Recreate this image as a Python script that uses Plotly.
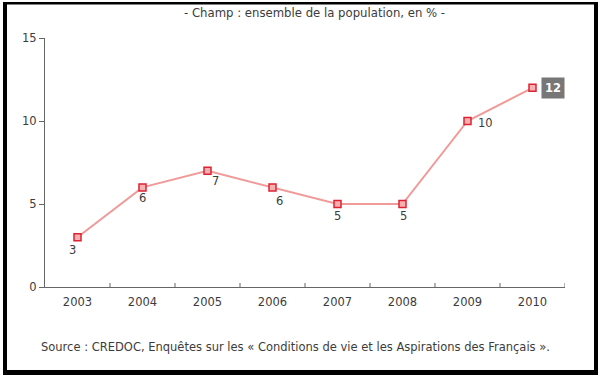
import plotly.graph_objects as go

years = ["2003", "2004", "2005", "2006", "2007", "2008", "2009", "2010"]
values = [3, 6, 7, 6, 5, 5, 10, 12]
y_ticks = [0, 5, 10, 15]
# label offsets (pixels) relative to each point
label_dx = [-5, 0, 8, 7, 0, 1, 18, 0]
label_dy = [13, 11, 10, 14, 12, 12, 2, 0]

W, H = 605, 378
L, R, T, B = 45, 40, 38, 91
PW, PH = W - L - R, H - T - B
FS = 11.5
TXT = "#3c3c3c"

def px(x):
    return (x - L) / PW

def py(y):
    return 1 - (y - T) / PH

fig = go.Figure()
fig.add_trace(go.Scatter(
    x=list(range(len(years))), y=values, mode="lines+markers",
    line=dict(color="#f09a9a", width=2),
    marker=dict(symbol="square", size=7, color="#f7b0b0",
                line=dict(color="#dd2233", width=1.5)),
    hoverinfo="skip", showlegend=False, cliponaxis=False,
))

annotations = []
for i, v in enumerate(values):
    if i == len(values) - 1:
        annotations.append(dict(
            x=i, y=v, xref="x", yref="y", text="<b>%d</b>" % v, showarrow=False,
            xshift=20, yshift=0, bgcolor="#777777", borderpad=3,
            font=dict(family="DejaVu Sans", size=FS, color="white")))
    else:
        annotations.append(dict(
            x=i, y=v, xref="x", yref="y", text=str(v), showarrow=False,
            xshift=label_dx[i], yshift=-label_dy[i],
            font=dict(family="DejaVu Sans", size=FS, color=TXT)))

annotations.append(dict(
    x=px(314), y=py(12.5), xref="paper", yref="paper", yanchor="middle",
    text="- Champ : ensemble de la population, en % -", showarrow=False,
    font=dict(family="DejaVu Sans", size=11.7, color=TXT)))
annotations.append(dict(
    x=px(39), y=py(347), xref="paper", yref="paper", xanchor="left",
    yanchor="middle",
    text="Source : CREDOC, Enquêtes sur les « Conditions de vie et les Aspirations des Français ».",
    showarrow=False,
    font=dict(family="DejaVu Sans", size=FS, color=TXT)))

shapes = []
def rect(x0, y0, x1, y1):
    shapes.append(dict(type="rect", xref="paper", yref="paper",
                       x0=px(x0), x1=px(x1), y0=py(y1), y1=py(y0),
                       fillcolor="black", line=dict(width=0), layer="above"))
rect(3, 2, 598, 4.5)      # top
rect(3, 2, 7, 375)        # left
rect(594, 2, 598, 375)    # right
rect(3, 370, 598, 375)    # bottom

fig.update_layout(
    width=W, height=H, margin=dict(l=L, r=R, t=T, b=B),
    paper_bgcolor="white", plot_bgcolor="white",
    font=dict(family="DejaVu Sans", size=FS, color=TXT),
    xaxis=dict(range=[-0.5, 7.5], tickmode="array",
               tickvals=list(range(len(years))), ticktext=years,
               showgrid=False, zeroline=False, showline=True,
               linecolor="#666666", linewidth=1,
               ticks="outside", ticklen=4, tickcolor="rgba(0,0,0,0)",
               fixedrange=True),
    yaxis=dict(range=[0, 15], tickvals=y_ticks, showgrid=False, zeroline=False,
               showline=True, linecolor="#666666", linewidth=1,
               ticks="outside", ticklen=5, tickcolor="#666666",
               fixedrange=True),
    annotations=annotations, shapes=shapes,
)
# boundary ticks on x axis between categories
for k in range(len(years)):
    b = k + 0.5
    fig.add_shape(type="line", xref="x", yref="paper", x0=b, x1=b,
                  y0=0, y1=py(T + PH - 4), line=dict(color="#666666", width=1))

fig.write_html("out.html", config={"displayModeBar": False},
               post_script="document.body.style.margin='0';document.body.style.overflow='hidden';")
